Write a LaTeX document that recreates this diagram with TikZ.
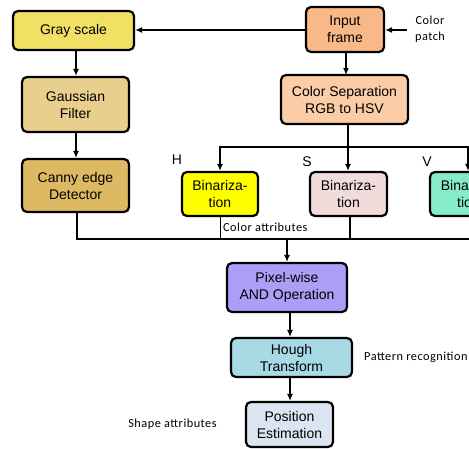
\documentclass[tikz,border=0pt]{standalone}
\usepackage{fontspec}
\setmainfont{Liberation Sans}
\newfontfamily\lblfont{Carlito}[LetterSpace=4]
\usetikzlibrary{arrows.meta}
\definecolor{cgray}{HTML}{F1E063}
\definecolor{cgauss}{HTML}{E8CF8D}
\definecolor{ccanny}{HTML}{DDB963}
\definecolor{cinput}{HTML}{F8B888}
\definecolor{csep}{HTML}{FBCDA6}
\definecolor{cbinh}{HTML}{FFFF00}
\definecolor{cbins}{HTML}{F2DCDB}
\definecolor{cbinv}{HTML}{86EBC9}
\definecolor{cpix}{HTML}{AD9DF7}
\definecolor{chough}{HTML}{A8DAE6}
\definecolor{cpos}{HTML}{DBE5F1}
\begin{document}
\begin{tikzpicture}[x=1pt,y=-1pt,
  box/.style={draw=black,line width=2.2pt,rounded corners=5pt,inner sep=0pt,align=center,
    font=\fontsize{14}{17}\selectfont},
  conn/.style={line width=2pt},
  arr/.style={line width=2pt,-{Latex[length=7pt,width=6pt]}},
  lbl/.style={font=\lblfont\fontsize{12.3}{15.5}\selectfont,inner sep=0pt,align=center},
  hsv/.style={font=\fontsize{14}{15}\selectfont,inner sep=0pt}]
\useasboundingbox (0,0) rectangle (469,448);
% boxes
\node[box,fill=cgray,minimum width=121pt,minimum height=39pt] (gray) at (73.5,30.5) {Gray scale};
\node[box,fill=cgauss,minimum width=107pt,minimum height=55pt] (gauss) at (75.5,104.5) {Gaussian\\Filter};
\node[box,fill=ccanny,minimum width=107pt,minimum height=53pt] (canny) at (75.5,185.5) {Canny edge\\Detector};
\node[box,fill=cinput,minimum width=78pt,minimum height=45pt] (input) at (345,29.5) {Input\\frame};
\node[box,fill=csep,minimum width=127pt,minimum height=49pt] (sep) at (344.5,99.5) {Color Separation\\RGB to HSV};
\node[box,fill=cbinh,minimum width=76pt,minimum height=44pt] (binh) at (220,194) {Binariza-\\tion};
\node[box,fill=cbins,minimum width=77pt,minimum height=44pt] (bins) at (348.5,194) {Binariza-\\tion};
\node[box,fill=cbinv,minimum width=77pt,minimum height=44pt] (binv) at (468.5,194) {Binariza-\\tion};
\node[box,fill=cpix,minimum width=120pt,minimum height=49pt] (pix) at (287,287.5) {Pixel-wise\\AND Operation};
\node[box,fill=chough,minimum width=121pt,minimum height=39pt] (hough) at (291.5,357.5) {Hough\\Transform};
\node[box,fill=cpos,minimum width=87pt,minimum height=45pt] (pos) at (289.5,424.5) {Position\\Estimation};
% labels
\node[hsv] (lh) at (177,160) {H};
\node[hsv] (ls) at (307,162) {S};
\node[hsv] (lv) at (427,162) {V};
\node[lbl] (patch) at (430,29) {Color\\patch};
\node[lbl,anchor=west] (cattr) at (223,227) {Color attributes};
\node[lbl,anchor=west] (patt) at (364,357) {Pattern recognition};
\node[lbl] (shape) at (172.5,424) {Shape attributes};
% coordinates
\coordinate (cp) at (407,30);
\coordinate (hbusL) at (220,147);
\coordinate (hbusR) at (475,147);
\coordinate (bbusL) at (77,239);
\coordinate (bbusR) at (475,239);
\coordinate (hS) at (348,147);
\coordinate (bH) at (220,239);
\coordinate (bS) at (350,239);
\coordinate (bP) at (287,239);
% connectors
\draw[arr] (input.west |- 0,30) -- (gray.east |- 0,30);
\draw[arr] (cp) -- (input.east |- cp);
\draw[arr] (346,52) -- (346,75);
\draw[arr] (sep.south -| hS) -- (bins.north -| hS);
\draw[conn] (hbusR) -- (hbusL);
\draw[arr] ([yshift=1pt]hbusL) -- (binh.north);
\draw[arr] (468,146) -- (binv.north -| 468,0);
\draw[arr] (gray.south -| 76,0) -- (gauss.north -| 76,0);
\draw[arr] (gauss.south -| 76,0) -- (canny.north -| 76,0);
\draw[conn] (canny.south -| bbusL) -- (bbusL) -- (bbusR);
\draw[line width=1pt] (binh.south) -- (bH);
\draw[conn] (bins.south -| bS) -- (bS);
\draw[arr] (bP) -- (pix.north -| bP);
\draw[arr] (pix.south -| 290,0) -- (hough.north -| 290,0);
\draw[arr] (hough.south -| 290,0) -- (pos.north -| 290,0);
\end{tikzpicture}
\end{document}
